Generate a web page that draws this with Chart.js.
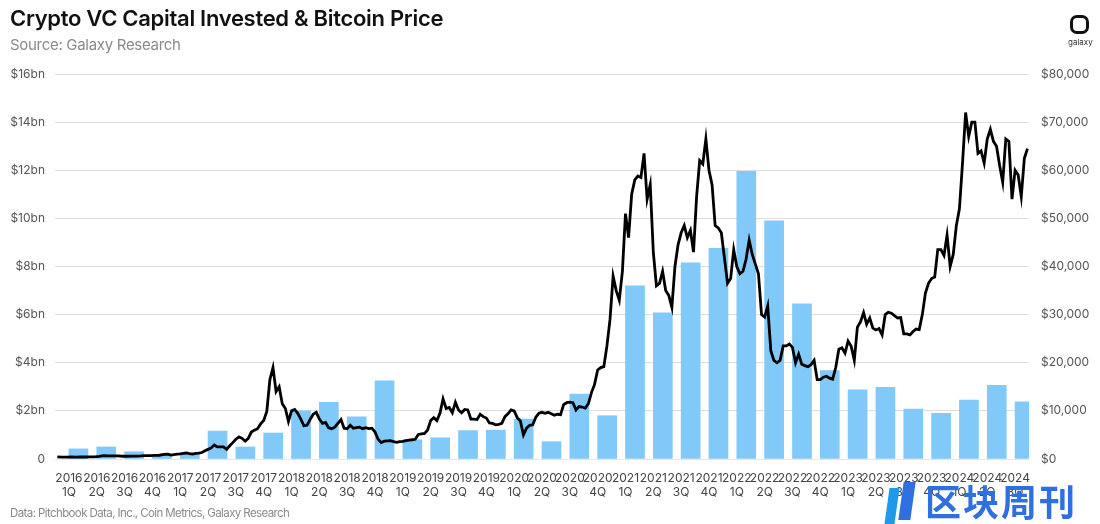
<!DOCTYPE html>
<html>
<head>
<meta charset="utf-8">
<script src="https://cdn.jsdelivr.net/npm/chart.js@4.4.1/dist/chart.umd.min.js"></script>
<style>
  html, body { margin: 0; padding: 0; background: #fff; }
  body { width: 1100px; height: 524px; position: relative; overflow: hidden; font-family: Inter, "Noto Sans", sans-serif; }
  #wrap { position: absolute; left: 0; top: 0; width: 1100px; height: 524px; }
  .title { position: absolute; left: 10px; top: 5px; font-size: 22px; font-weight: 600; color: #111; letter-spacing: -0.3px; }
  .sub { position: absolute; left: 10px; top: 35px; font-size: 15px; color: #8a8a8a; letter-spacing: -0.3px; }
  .foot { position: absolute; left: 10px; top: 506px; font-size: 11.5px; color: #8a8a8a; letter-spacing: -0.6px; }
  .logo { position: absolute; left: 1070px; top: 15px; width: 19px; height: 19px; border: 3px solid #111; border-radius: 7px; box-sizing: border-box; }
  .logotxt { position: absolute; left: 1068px; top: 37px; font-size: 8px; color: #333; }
  .wm { position: absolute; left: 925px; top: 482px; font-family: "Noto Sans CJK SC", sans-serif; font-size: 36px; font-weight: 700; color: #2f6fe0; letter-spacing: 2px; line-height: 1; }
  .wm1 { position: absolute; left: 887px; top: 488px; width: 10px; height: 36px; background: #1f9ae8; transform: skewX(-8deg); }
  .wm2 { position: absolute; left: 901px; top: 482px; width: 12px; height: 38px; background: #2f6fe0; transform: skewX(-8deg); }
</style>
</head>
<body>
<div id="wrap"><canvas id="chart" width="1100" height="524"></canvas></div>
<div class="title">Crypto VC Capital Invested &amp; Bitcoin Price</div>
<div class="sub">Source: Galaxy Research</div>
<div class="foot">Data: Pitchbook Data, Inc., Coin Metrics, Galaxy Research</div>
<div class="logo"></div>
<div class="logotxt">galaxy</div>
<div class="wm1"></div><div class="wm2"></div>
<div class="wm">区块周刊</div>
<script>
// quarters 2016 1Q .. 2024 3Q
const years = ['2016','2017','2018','2019','2020','2021','2022','2023','2024'];
const quarters = ['1Q','2Q','3Q','4Q'];

// VC capital invested, $bn per quarter
const vcInvested = [
  0.42, 0.50, 0.30, 0.15,
  0.20, 1.16, 0.50, 1.08,
  2.00, 2.35, 1.75, 3.25,
  0.80, 0.88, 1.18, 1.20,
  1.66, 0.72, 2.70, 1.80,
  7.20, 6.07, 8.15, 8.75,
  11.95, 9.90, 6.45, 3.67,
  2.87, 2.98, 2.07, 1.90,
  2.45, 3.06, 2.38
];

// Bitcoin price (USD) readings, spread evenly over each year
const btc2016 = [430,380,400,420,410,415,420,440,450,530,680,670,665,650,575,575,605,610,640,700,720,740,780,960];
const btc2017 = [1000,800,920, 1000,1050,1190, 1250,1100,1040, 1180,1230,1350, 1700,2000,2300, 2900,2500,2500,
                 2500,2000,2750, 3400,4100,4600, 4300,3700,4300, 5600,6000,6300, 7300,8000,9900, 16500,19000,14000];
const btc2018 = [15000,11500,10500, 7800,10000,10300, 9500,8300,6900, 7000,8200,9300, 9700,8300,7400, 7600,6500,6300,
                 6600,7400,8200, 6400,6300,7000, 6400,6500,6600, 6300,6500,6300, 6400,5600,4100, 3400,3700,3750];
const btc2019 = [3800,3600,3450, 3600,3650,3800, 3900,4000,4100, 5100,5200,5300, 6000,8000,8600, 8000,9500,12500,
                 10500,10700,9600, 11800,10200,9600, 10300,10200,8300, 8300,8200,9300, 8800,8500,7500, 7400,7100,7200];
const btc2020 = [7400,8800,9400, 10200,10000,8600, 7900,5000,6400, 7000,7100,8700, 9500,9700,9500, 9700,9400,9100,
                 9300,9200,11300, 11700,11800,11700, 10200,10900,10800, 10600,11500,13800, 15500,18500,19000, 19200,23500,29000];
const btc2021 = [38000,35000,33000, 39000,51000,46000, 55000,58000,58800, 58500,63500,54000, 57000,43000,36000, 36500,39000,35000,
                 34000,31500,40000, 44500,47000,48500, 46000,47500,43000, 54500,62000,61300, 66500,60000,57000, 48500,48000,47000];
const btc2022 = [41800,36500,37500, 43500,40000,38500, 39000,41500,45500, 42500,40500,38500, 30000,29500,31800, 22500,20500,20000,
                 20500,23500,23500, 23900,23200,20000, 21800,19700,19400, 19200,19600,20500, 16500,16500,17000, 17200,16800,16600];
const btc2023 = [19000,22800,23100, 22000,24500,23400, 20500,27400,28500, 30400,28000,29300, 27200,26800,27100, 25800,30000,30500,
                 30300,29800,29300, 29400,26000,26000, 25800,26500,27000, 26900,30000,34500, 36500,37500,37800, 43500,43500,42300];
const btc2024 = [46500,40000,42500, 48500,52000,61500, 72000,67000,70000, 70000,63500,64000, 61500,66500,68500, 66000,65000,61000,
                 57500,66500,66000, 54000,60000,59000, 54500,62500,64500];

const btcByYear = [btc2016, btc2017, btc2018, btc2019, btc2020, btc2021, btc2022, btc2023, btc2024];
const monthsCovered = [12, 12, 12, 12, 12, 12, 12, 12, 9];

const labels = [];
years.forEach(y => quarters.forEach(q => { if (labels.length < vcInvested.length) labels.push([y, q]); }));

// x in quarter units from 2016 1Q start, so it lines up with the category slots
const btcPoints = [];
btcByYear.forEach((arr, yi) => {
    const span = monthsCovered[yi] / 3;
    arr.forEach((v, j) => btcPoints.push({ x: yi * 4 + (j + 0.5) / arr.length * span, y: v }));
});

const tickFont = { family: 'Inter, "Noto Sans", sans-serif', size: 12 };

new Chart(document.getElementById('chart').getContext('2d'), {
    data: {
        labels: labels,
        datasets: [
            {
                type: 'line',
                label: 'Bitcoin Price',
                data: btcPoints,
                xAxisID: 'x2',
                yAxisID: 'y1',
                borderColor: '#000',
                borderWidth: 2.8,
                pointRadius: 0,
                tension: 0,
                order: 0
            },
            {
                type: 'bar',
                label: 'Capital Invested',
                data: vcInvested,
                xAxisID: 'x',
                yAxisID: 'y',
                backgroundColor: '#80c9f9',
                barThickness: 19,
                order: 1
            }
        ]
    },
    options: {
        responsive: false,
        animation: false,
        layout: { padding: { top: 74, bottom: 26, left: 0, right: 0 } },
        plugins: { legend: { display: false }, tooltip: { enabled: false } },
        scales: {
            x: {
                type: 'category',
                offset: true,
                grid: { display: false },
                border: { display: true, color: '#e6e6e6' },
                ticks: { color: '#444', font: tickFont, autoSkip: false, maxRotation: 0, padding: 4 },
                afterFit: (s) => { s.height = 39; }
            },
            x2: {
                type: 'linear',
                display: false,
                min: 0,
                max: 35
            },
            y: {
                position: 'left',
                min: 0,
                max: 16,
                grid: { color: '#dedede', drawTicks: false },
                border: { display: false },
                ticks: {
                    stepSize: 2,
                    color: '#555',
                    font: tickFont,
                    padding: 10,
                    callback: v => v === 0 ? '0' : '$' + v + 'bn'
                },
                afterFit: (s) => { s.width = 55; }
            },
            y1: {
                position: 'right',
                min: 0,
                max: 80000,
                grid: { display: false, drawTicks: false },
                border: { display: false },
                ticks: {
                    stepSize: 10000,
                    color: '#555',
                    font: tickFont,
                    padding: 12,
                    callback: v => '$' + v.toLocaleString('en-US')
                },
                afterFit: (s) => { s.width = 71; }
            }
        }
    }
});
</script>
</body>
</html>
